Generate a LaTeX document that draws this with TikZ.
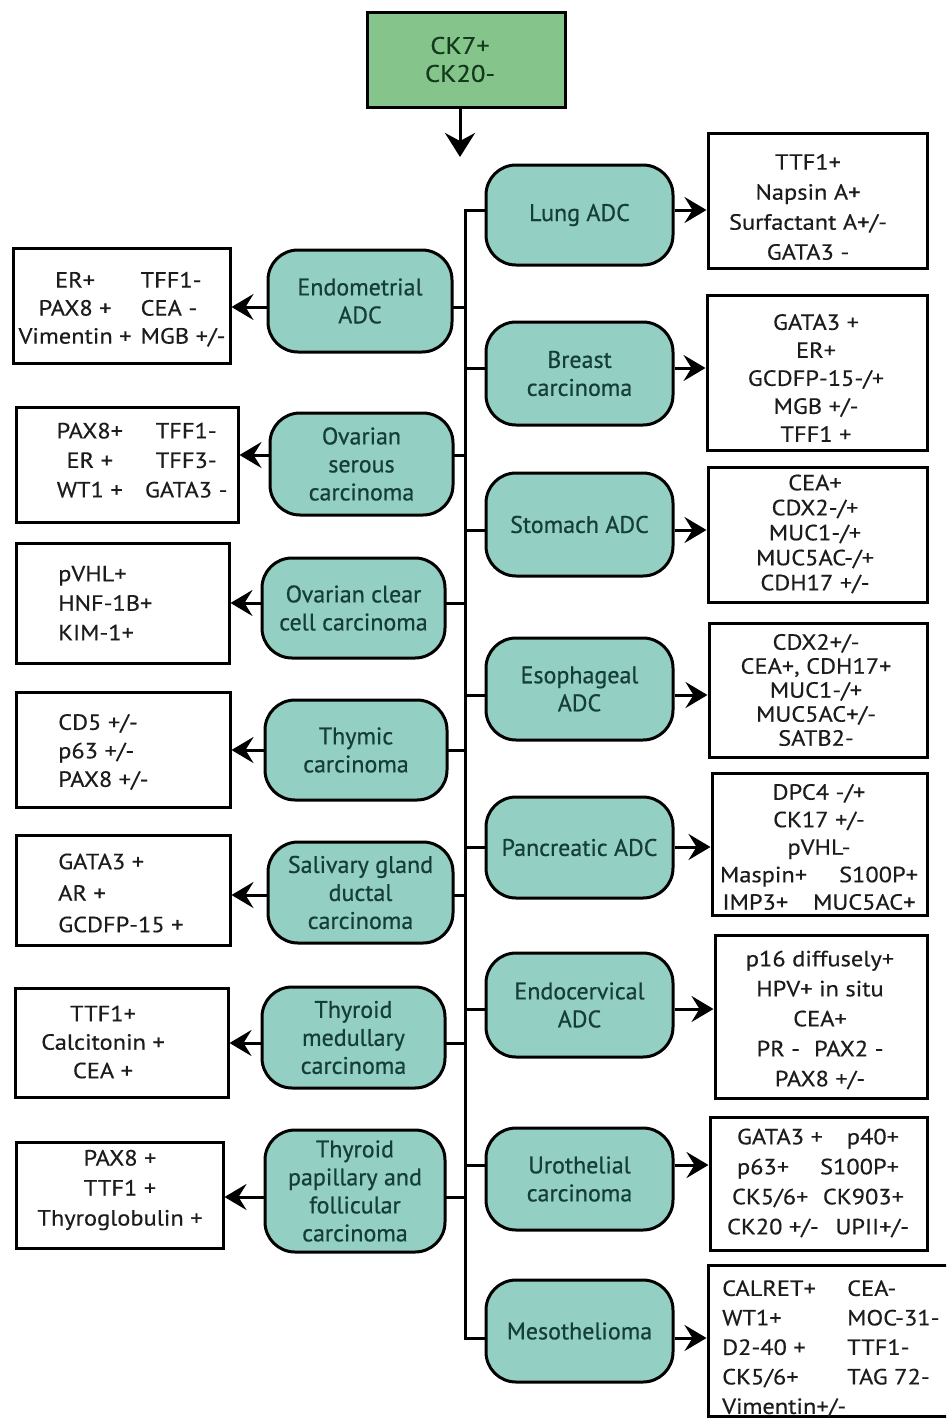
\documentclass[tikz,border=0pt]{standalone}
\usepackage{fontspec}
\setmainfont{PT Sans}[FakeBold=0.6]
\newfontfamily\rfont{PT Sans}[FakeBold=0.6]
\newfontfamily\wfont{PT Sans}[FakeStretch=1.11,FakeBold=0.4]
\usetikzlibrary{arrows.meta}
\definecolor{tealfill}{HTML}{93CFC2}
\definecolor{tealtxt}{HTML}{153E39}
\definecolor{greenfill}{HTML}{85C58B}
\definecolor{greentxt}{HTML}{133A1C}
\definecolor{ink}{HTML}{1C1C1C}
\begin{document}
\begin{tikzpicture}[x=1pt,y=-1pt,
  rbox/.style={draw=black, line width=3pt, fill=tealfill, rounded corners=30pt,
    text=tealtxt, font=\rfont\fontsize{24}{28}\selectfont, align=center, inner sep=0pt},
  wbox/.style={draw=black, line width=3pt, fill=white, inner sep=0pt},
  wtxt/.style={text=ink, font=\wfont\fontsize{22}{#1}\selectfont, align=center, inner sep=0pt},
  wtxt/.default=29,
  link/.style={line width=3pt, line cap=rect},
  arr/.style={line width=3pt, -{Stealth[length=22pt,width=26pt,inset=8pt]}}]
\useasboundingbox (0,0) rectangle (946,1419);
\clip (0,0) rectangle (946,1419);
\fill[white] (0,0) rectangle (946,1419);

% top box
\node[draw=black, line width=3pt, fill=greenfill, minimum width=198pt, minimum height=95pt,
  inner sep=0pt, text=greentxt, font=\wfont\fontsize{24}{28}\selectfont, align=center]
  (top) at (466,59.5) {\hspace*{-12pt}CK7+\\\hspace*{-12pt}CK20-};
\coordinate (topTip) at (460,157);
\draw[line width=3pt, -{Stealth[length=24pt,width=30pt,inset=8pt]}] (top.south -| topTip) -- (topTip);

% right rounded boxes
\node[rbox, minimum width=187pt, minimum height=100pt] (R1) at (579.5,215) {Lung ADC};
\node[rbox, minimum width=187pt, minimum height=103pt] (R2) at (579.5,373.5) {Breast\\carcinoma};
\node[rbox, minimum width=187pt, minimum height=103pt] (R3) at (579.5,524.5) {Stomach ADC};
\node[rbox, minimum width=187pt, minimum height=102pt] (R4) at (579.5,689) {Esophageal\\ADC};
\node[rbox, minimum width=187pt, minimum height=101pt] (R5) at (579.5,847.5) {Pancreatic ADC};
\node[rbox, minimum width=187pt, minimum height=104pt] (R6) at (579.5,1005) {Endocervical\\ADC};
\node[rbox, minimum width=187pt, minimum height=102pt] (R7) at (579.5,1179) {Urothelial\\carcinoma};
\node[rbox, minimum width=187pt, minimum height=102pt] (R8) at (579.5,1331) {Mesothelioma};

% left rounded boxes
\node[rbox, minimum width=184pt, minimum height=102pt] (L1) at (360,301) {Endometrial\\ADC};
\node[rbox, minimum width=183pt, minimum height=102pt] (L2) at (361.5,464) {Ovarian\\serous\\carcinoma};
\node[rbox, minimum width=183pt, minimum height=100pt] (L3) at (353.5,608) {Ovarian clear\\cell carcinoma};
\node[rbox, minimum width=182pt, minimum height=100pt] (L4) at (356,750) {Thymic\\carcinoma};
\node[rbox, minimum width=185pt, minimum height=101pt] (L5) at (360.5,892.5) {Salivary gland\\ductal\\carcinoma};
\node[rbox, minimum width=183pt, minimum height=101pt] (L6) at (353.5,1037.5) {Thyroid\\medullary\\carcinoma};
\node[rbox, minimum width=180pt, minimum height=122pt] (L7) at (355,1191) {Thyroid\\papillary and\\follicular\\carcinoma};

% right white boxes
\node[wbox, minimum width=219pt, minimum height=135pt] (W1) at (817.5,200.5) {};
\node[wbox, minimum width=220pt, minimum height=155pt] (W2) at (817,372.5) {};
\node[wbox, minimum width=219pt, minimum height=135pt] (W3) at (817.5,534.5) {};
\node[wbox, minimum width=218pt, minimum height=134pt] (W4) at (818,690) {};
\node[wbox, minimum width=215pt, minimum height=142pt] (W5) at (819.5,844) {};
\node[wbox, minimum width=212pt, minimum height=163pt] (W6) at (821,1016.5) {};
\node[wbox, minimum width=217pt, minimum height=133pt] (W7) at (818.5,1183.5) {};
\node[wbox, minimum width=244pt, minimum height=151pt] (W8) at (830,1340.5) {};

\node[wtxt=30] (tW1) at (808,207) {TTF1+\\Napsin A+\\Surfactant A+/-\\GATA3 -};
\node[wtxt=28] (tW2) at (816,378) {GATA3 +\\ER+\\GCDFP-15-/+\\MGB +/-\\TFF1 +};
\node[wtxt=25] (tW3) at (815,534) {CEA+\\CDX2-/+\\MUC1-/+\\MUC5AC-/+\\CDH17 +/-};
\node[wtxt=24] (tW4) at (816,690) {CDX2+/-\\CEA+, CDH17+\\MUC1-/+\\MUC5AC+/-\\SATB2-};
\node[wtxt=27.5] (tW5) at (819,847) {DPC4 -/+\\CK17 +/-\\pVHL-\\\makebox[198pt]{Maspin+\hfill S100P+}\\\makebox[193pt]{IMP3+\hfill MUC5AC+}};
\node[wtxt=30] (tW6) at (820,1020) {p16 diffusely+\\HPV+ in situ\\CEA+\\PR -\hspace{14pt}PAX2 -\\PAX8 +/-};
\node[wtxt=30] (tW7) at (818,1183) {\makebox[162pt]{GATA3 +\hfill p40+}\\\makebox[162pt]{p63+\hfill S100P+}\\\makebox[172pt]{CK5/6+\hfill CK903+}\\\makebox[182pt]{CK20 +/-\hfill UPII+/-}};
\node[wtxt=29.5, anchor=west] (tW8) at (722,1349) {\begin{tabular}{@{}p{125pt}@{}l@{}}CALRET+ & CEA-\\WT1+ & MOC-31-\\D2-40 + & TTF1-\\CK5/6+ & TAG 72-\\Vimentin+/- & \end{tabular}};

% left white boxes
\node[wbox, minimum width=217pt, minimum height=115pt] (V1) at (121.5,305.5) {};
\node[wbox, minimum width=222pt, minimum height=115pt] (V2) at (127,464.5) {};
\node[wbox, minimum width=213pt, minimum height=120pt] (V3) at (122.5,603) {};
\node[wbox, minimum width=214pt, minimum height=115pt] (V4) at (123,749.5) {};
\node[wbox, minimum width=214pt, minimum height=110pt] (V5) at (123,890) {};
\node[wbox, minimum width=213pt, minimum height=109pt] (V6) at (121.5,1042.5) {};
\node[wbox, minimum width=207pt, minimum height=106pt] (V7) at (119.5,1195) {};

\node[wtxt=28] (tV1) at (122,310) {\begin{tabular}{@{}c@{\hspace{9pt}}l@{}}ER+ & TFF1-\\PAX8 + & CEA -\\Vimentin + & MGB +/-\end{tabular}};
\node[wtxt=29.5] (tV2) at (142,462) {\begin{tabular}{@{}c@{\hspace{22pt}}c@{}}PAX8+ & TFF1-\\ER + & TFF3-\\WT1 + & GATA3 -\end{tabular}};
\node[wtxt=29.5, anchor=west, align=left] (tV3) at (58,603) {pVHL+\\HNF-1B+\\KIM-1+};
\node[wtxt=28.5, anchor=west, align=left] (tV4) at (58,752) {CD5 +/-\\p63 +/-\\PAX8 +/-};
\node[wtxt=31.5, anchor=west, align=left] (tV5) at (58,893) {GATA3 +\\AR +\\GCDFP-15 +};
\node[wtxt=28.5] (tV6) at (103,1042) {TTF1+\\Calcitonin +\\CEA +};
\node[wtxt=30] (tV7) at (120,1190) {PAX8 +\\TTF1 +\\Thyroglobulin +};

% trunk
\coordinate (T0) at (465,210);
\coordinate (T1) at (465,1338);
\draw[link] (T0) -- (T1);

\foreach \n/\y in {1/210,2/368,3/530,4/695,5/847,6/1009,7/1165,8/1338} {
  \coordinate (bR\n) at (465,\y);
  \draw[link] (bR\n) -- (bR\n -| R\n.west);
  \draw[arr] (bR\n -| R\n.east) -- (bR\n -| W\n.west);
}
\foreach \n/\y in {1/307,2/455,3/603,4/750,5/895,6/1043,7/1197} {
  \coordinate (bL\n) at (465,\y);
  \draw[link] (bL\n) -- (bL\n -| L\n.east);
  \draw[arr] (bL\n -| L\n.west) -- (bL\n -| V\n.east);
}
\end{tikzpicture}
\end{document}
